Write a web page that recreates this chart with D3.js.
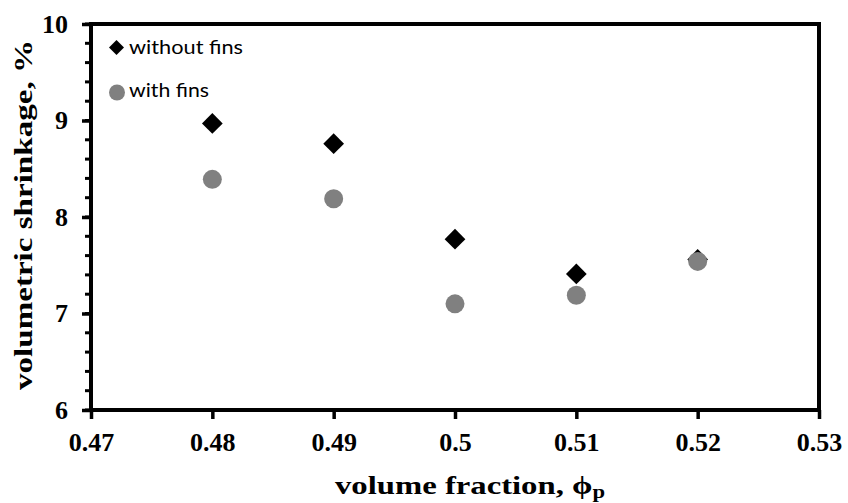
<!DOCTYPE html>
<html>
<head>
<meta charset="utf-8">
<script src="https://cdn.jsdelivr.net/npm/d3@7"></script>
<style>
  html, body { margin: 0; padding: 0; background: #fff; }
  svg { display: block; }
</style>
</head>
<body>
<svg id="chart" width="848" height="503"></svg>
<script>
// Volume fraction of particles
const fractions = [0.48, 0.49, 0.50, 0.51, 0.52];
// Volumetric shrinkage (%) without fins
const withoutFins = [8.97, 8.76, 7.77, 7.41, 7.56];
// Volumetric shrinkage (%) with fins
const withFins = [8.39, 8.19, 7.10, 7.19, 7.54];

const xTicks = [0.47, 0.48, 0.49, 0.50, 0.51, 0.52, 0.53];
const xTickLabels = ["0.47", "0.48", "0.49", "0.5", "0.51", "0.52", "0.53"];
const yTicks = [6, 7, 8, 9, 10];
const yMinorTicks = d3.range(6, 10.0001, 0.2);

const svg = d3.select("#chart");
const margin = { left: 91, right: 29, top: 24, bottom: 93 };
const W = 848, H = 503;

const x = d3.scaleLinear().domain([0.47, 0.53]).range([margin.left, W - margin.right]);
const y = d3.scaleLinear().domain([6, 10]).range([H - margin.bottom, margin.top]);

const serif = "'Liberation Serif', 'Times New Roman', serif";
const sans = "Lato, 'Liberation Sans', sans-serif";

// minor y ticks
svg.append("g")
  .selectAll("line")
  .data(yMinorTicks)
  .join("line")
  .attr("x1", x(0.47) - 6).attr("x2", x(0.47))
  .attr("y1", d => y(d)).attr("y2", d => y(d))
  .attr("stroke", "#000").attr("stroke-width", 3);

// y axis
const yAxis = svg.append("g")
  .attr("transform", `translate(${x(0.47)},0)`)
  .call(d3.axisLeft(y).tickValues(yTicks).tickSize(9).tickPadding(14).tickFormat(d3.format("d")));
yAxis.select(".domain").remove();
yAxis.selectAll(".tick line").attr("stroke", "#000").attr("stroke-width", 3.5);
yAxis.selectAll(".tick text")
  .attr("fill", "#000")
  .style("font-family", serif).style("font-size", "26px").style("font-weight", "bold");

// x axis
const xAxis = svg.append("g")
  .attr("transform", `translate(0,${y(6)})`)
  .call(d3.axisBottom(x).tickValues(xTicks).tickSize(9).tickPadding(14)
    .tickFormat((d, i) => xTickLabels[i]));
xAxis.select(".domain").remove();
xAxis.selectAll(".tick line").attr("stroke", "#000").attr("stroke-width", 3.5);
xAxis.selectAll(".tick text")
  .attr("fill", "#000")
  .style("font-family", serif).style("font-size", "26px").style("font-weight", "bold");

// plot frame
svg.append("rect")
  .attr("x", x(0.47)).attr("y", y(10))
  .attr("width", x(0.53) - x(0.47)).attr("height", y(6) - y(10))
  .attr("fill", "none").attr("stroke", "#000").attr("stroke-width", 4);

// without fins: black diamonds
const diamond = d3.symbol().type(d3.symbolSquare).size(215);
svg.append("g")
  .selectAll("path")
  .data(fractions.map((f, i) => [f, withoutFins[i]]))
  .join("path")
  .attr("d", diamond)
  .attr("transform", d => `translate(${x(d[0])},${y(d[1])}) rotate(45)`)
  .attr("fill", "#000");

// with fins: grey circles (drawn on top)
svg.append("g")
  .selectAll("circle")
  .data(fractions.map((f, i) => [f, withFins[i]]))
  .join("circle")
  .attr("cx", d => x(d[0])).attr("cy", d => y(d[1]))
  .attr("r", 9.5).attr("fill", "#808080");

// legend
const legend = svg.append("g");
legend.append("path")
  .attr("d", d3.symbol().type(d3.symbolSquare).size(112))
  .attr("transform", "translate(116.5,47.5) rotate(45)")
  .attr("fill", "#000");
legend.append("text")
  .attr("x", 129).attr("y", 54)
  .attr("textLength", 114).attr("lengthAdjust", "spacingAndGlyphs")
  .style("font-family", sans).style("font-size", "19px")
  .attr("fill", "#000").text("without fins");
legend.append("circle")
  .attr("cx", 117).attr("cy", 92.5).attr("r", 8).attr("fill", "#808080");
legend.append("text")
  .attr("x", 129).attr("y", 97)
  .attr("textLength", 80).attr("lengthAdjust", "spacingAndGlyphs")
  .style("font-family", sans).style("font-size", "19px")
  .attr("fill", "#000").text("with fins");

// axis titles
const xTitle = svg.append("text")
  .attr("x", 335).attr("y", 494)
  .attr("textLength", 270).attr("lengthAdjust", "spacingAndGlyphs")
  .style("font-family", serif).style("font-size", "26px").style("font-weight", "bold")
  .attr("fill", "#000");
xTitle.append("tspan").text("volume fraction, \u03d5");
xTitle.append("tspan").attr("dy", 4).style("font-size", "18px").text("p");

svg.append("text")
  .attr("transform", `translate(32,215) rotate(-90)`)
  .attr("text-anchor", "middle")
  .attr("textLength", 350).attr("lengthAdjust", "spacingAndGlyphs")
  .style("font-family", serif).style("font-size", "26px").style("font-weight", "bold")
  .attr("fill", "#000")
  .text("volumetric shrinkage, %");
</script>
</body>
</html>
